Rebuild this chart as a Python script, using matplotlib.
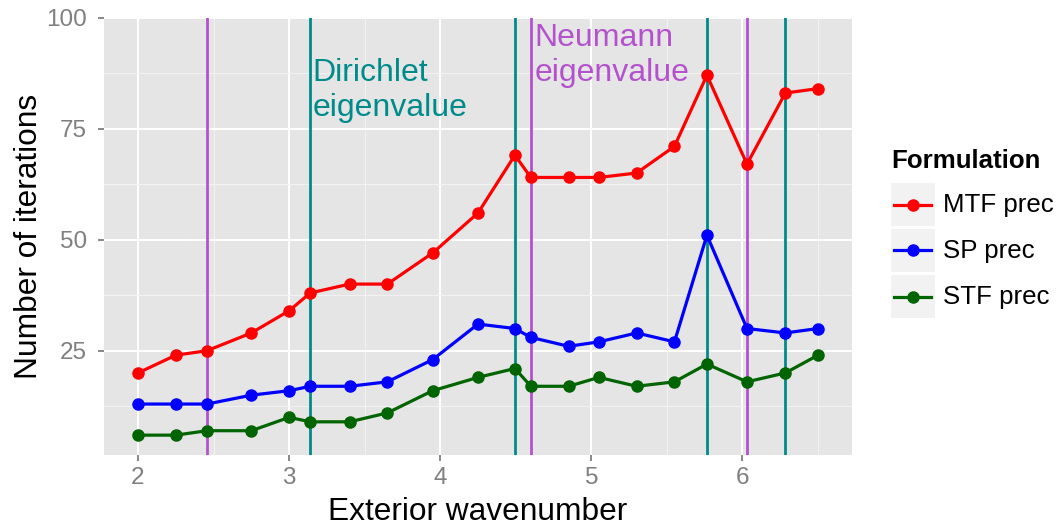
import matplotlib.pyplot as plt
from matplotlib.lines import Line2D
from matplotlib.patches import Rectangle

plt.rcParams['font.family'] = ['Liberation Sans', 'DejaVu Sans']

# wavenumbers (eigenvalues included as sample points)
wavenumber = [2.0, 2.25, 2.456, 2.75, 3.0, 3.14, 3.4, 3.65, 3.95, 4.25,
              4.494, 4.6, 4.85, 5.05, 5.3, 5.55, 5.765, 6.03, 6.284, 6.5]
mtf_prec = [20, 24, 25, 29, 34, 38, 40, 40, 47, 56,
            69, 64, 64, 64, 65, 71, 87, 67, 83, 84]
sp_prec = [13, 13, 13, 15, 16, 17, 17, 18, 23, 31,
           30, 28, 26, 27, 29, 27, 51, 30, 29, 30]
stf_prec = [6, 6, 7, 7, 10, 9, 9, 11, 16, 19,
            21, 17, 17, 19, 17, 18, 22, 18, 20, 24]

dirichlet_eig = [3.14, 4.494, 5.765, 6.284]
neumann_eig = [2.456, 4.6, 6.03]

series_names = ['MTF prec', 'SP prec', 'STF prec']
series_colors = ['#FF0000', '#0000FF', '#006400']
teal = '#008B8B'
orchid = '#B452CD'

W, H = 1058, 532
fig = plt.figure(figsize=(W / 100, H / 100), dpi=100)

# panel box in pixels: left, right, top, bottom
pl, pr, pt, pb = 104, 852, 17.5, 454.7
ax = fig.add_axes([pl / W, (H - pb) / H, (pr - pl) / W, (pb - pt) / H])
ax.set_facecolor('#E5E5E5')
for s in ax.spines.values():
    s.set_visible(False)

ax.set_xlim(1.775, 6.725)
ax.set_ylim(1.6, 100)
ax.set_xticks([2, 3, 4, 5, 6])
ax.set_xticks([2.5, 3.5, 4.5, 5.5, 6.5], minor=True)
ax.set_yticks([25, 50, 75, 100])
ax.set_yticks([12.5, 37.5, 62.5, 87.5], minor=True)
ax.grid(which='major', color='white', linewidth=1.4)
ax.grid(which='minor', color='#F2F2F2', linewidth=0.8)
ax.set_axisbelow(True)
ax.tick_params(which='major', length=4.5, width=1.3, color='#7F7F7F',
               labelcolor='#7F7F7F', labelsize=17.5)
ax.tick_params(axis='x', pad=4)
ax.tick_params(axis='y', pad=8)
ax.tick_params(which='minor', length=0)

for k in dirichlet_eig:
    ax.axvline(k, color=teal, linewidth=2.0, zorder=2)
for k in neumann_eig:
    ax.axvline(k, color=orchid, linewidth=2.0, zorder=2)

for ys, c in zip([mtf_prec, sp_prec, stf_prec], series_colors):
    ax.plot(wavenumber, ys, color=c, linewidth=2.3, marker='o',
            markersize=8, zorder=3)

ax.text(3.155, 90.8, 'Dirichlet\neigenvalue', color=teal, fontsize=23,
        ha='left', va='top', linespacing=1.22, zorder=4)
ax.text(4.625, 98.8, 'Neumann\neigenvalue', color=orchid, fontsize=23,
        ha='left', va='top', linespacing=1.22, zorder=4)

ax.set_xlabel('Exterior wavenumber', fontsize=22.8, color='black')
ax.set_ylabel('Number of iterations', fontsize=22.8, color='black')
ax.xaxis.set_label_coords(0.5, (pb - 512) / (pb - pt))
ax.xaxis.label.set_va('center')
ax.yaxis.set_label_coords((29 - pl) / (pr - pl), 0.5)
ax.yaxis.label.set_va('center')


def fx(x):
    return x / W


def fy(y):
    return (H - y) / H


# legend drawn by hand to get the grey key boxes
fig.text(fx(891), fy(168), 'Formulation', fontsize=18.6, fontweight='bold',
         ha='left', va='baseline')
rows = [(183.3, 225.7), (229, 271.7), (275, 318.3)]
for (top, bot), name, c in zip(rows, series_names, series_colors):
    fig.add_artist(Rectangle((fx(891), fy(bot)), fx(44), (bot - top) / H,
                             transform=fig.transFigure, facecolor='#F2F2F2',
                             edgecolor='none'))
    yc = (top + bot) / 2
    fig.add_artist(Line2D([fx(894), fx(931)], [fy(yc), fy(yc)], color=c,
                          linewidth=2.3, transform=fig.transFigure))
    fig.add_artist(Line2D([fx(912.5)], [fy(yc)], color=c, marker='o',
                          markersize=8, transform=fig.transFigure))
    fig.text(fx(942.7), fy(yc + 7.5), name, fontsize=18.6, ha='left',
             va='baseline')

fig.savefig('out.png', dpi=100)
